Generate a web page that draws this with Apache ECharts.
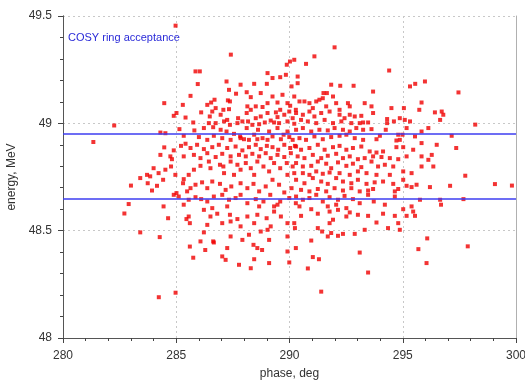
<!DOCTYPE html>
<html><head><meta charset="utf-8">
<script src="https://cdn.jsdelivr.net/npm/echarts@6/dist/echarts.min.js"></script>
<style>html,body{margin:0;padding:0;background:#fff}#c{width:525px;height:380px}</style>
</head><body><div id="c"></div>
<script>
// axis ticks
var xTicks = [280, 285, 290, 295, 300];
var yTicks = [48, 48.5, 49, 49.5];
// acceptance band limits (MeV)
var acceptance = [48.95, 48.65];
var legendText = 'COSY ring acceptance';

// [phase deg, energy MeV]
var outliers = [
[282.26,48.99],[281.34,48.913],[283.0,48.71],[282.9,48.624],[282.71,48.58],
[284.97,49.455],[287.41,49.32],[291.99,49.354],[291.10,49.312],
[298.20,48.994],[299.07,48.717],[299.82,48.71],
[284.23,48.19],[284.97,48.211],[291.40,48.216]
];
var coreLeft = [
[289.88,49.273],[290.02,49.288],[290.21,49.296],[285.85,49.242],[286.04,49.242],
[285.95,49.183],[287.22,49.195],[287.84,49.180],[288.44,49.184],[289.00,49.184],[289.25,49.211],[289.59,49.215],[289.84,49.226],[289.03,49.234],[287.33,49.156],[288.11,49.145],[290.09,49.172],
[285.63,49.128],[284.47,49.094],[285.29,49.086],[286.69,49.110],[286.54,49.097],[287.28,49.107],[287.37,49.102],[287.64,49.138],[288.29,49.122],[288.73,49.141],[289.25,49.125],[289.47,49.097],[289.69,49.133],[290.21,49.125],[290.03,49.082],[290.28,49.063],
[286.37,49.086],[286.74,49.071],[287.08,49.063],[287.33,49.066],[288.14,49.079],[288.51,49.079],[288.81,49.076],[289.03,49.094],[289.59,49.063],[289.91,49.094],
[285.01,49.048],[284.89,49.035],[285.41,49.027],[285.75,49.004],[286.10,49.051],[286.59,49.055],[286.48,49.032],[286.96,49.040],[287.25,49.016],[287.73,49.024],[288.11,49.048],[288.29,49.063],[288.17,49.009],[288.51,49.024],[288.73,49.032],[289.03,49.048],[289.40,49.051],[289.47,49.029],[289.77,49.040],[289.99,49.055],[290.14,49.024],
[289.32,49.004],[289.54,49.001],[289.91,49.009],[290.21,48.998],
[286.44,49.001],[286.74,49.001],[287.11,49.009],[287.37,48.993],[287.70,49.001],[287.92,49.009],[288.36,48.993],[288.66,48.996],[288.91,49.004],[289.17,49.013],
[284.30,48.957],[284.52,48.954],[285.14,48.973],[285.33,48.942],[285.80,48.967],[286.22,48.978],[286.63,48.982],[286.96,48.970],[287.22,48.962],[287.55,48.951],[287.82,48.939],[287.99,48.926],[288.11,48.978],[288.44,48.947],[288.61,48.970],[288.81,48.931],[289.10,48.962],[289.25,48.939],[289.47,48.978],[289.74,48.947],[289.91,48.962],[290.14,48.923],
[286.66,48.942],[287.03,48.931],[287.40,48.923],[287.84,48.931],[288.21,48.923],[288.58,48.926],[289.03,48.923],[289.62,48.926],[289.99,48.936],[286.00,48.936],[286.37,48.923],[285.41,48.905],
[284.47,48.888],[284.89,48.874],[285.21,48.895],[285.63,48.885],[285.92,48.900],[286.22,48.880],[286.59,48.889],[286.88,48.900],[287.25,48.885],[287.62,48.892],[287.92,48.874],[288.21,48.889],[288.51,48.900],[288.73,48.880],[289.00,48.895],[289.25,48.889],[289.50,48.877],[289.77,48.900],[290.03,48.885],[290.24,48.895],
[284.81,48.833],[284.74,48.846],[284.30,48.853],[285.33,48.846],[285.78,48.853],[286.07,48.838],[286.37,48.861],[286.74,48.843],[287.03,48.858],[287.40,48.846],[287.77,48.853],[288.07,48.846],[288.36,48.858],[288.66,48.846],[288.95,48.861],[289.17,48.838],[289.47,48.853],[289.77,48.843],[290.06,48.861],
[284.00,48.791],[284.22,48.768],[284.52,48.784],[284.77,48.799],[284.96,48.760],[285.33,48.740],[285.55,48.760],[285.78,48.784],[286.07,48.802],[286.44,48.822],[286.51,48.791],[286.93,48.807],[287.11,48.768],[287.40,48.822],[287.70,48.807],[287.84,48.784],[288.07,48.815],[288.29,48.791],[288.58,48.822],[288.85,48.799],[289.10,48.776],[289.32,48.815],[289.59,48.791],[289.88,48.815],[290.14,48.799],
[287.08,48.799],[288.44,48.760],[287.55,48.760],[289.91,48.760],[290.21,48.768],[283.71,48.760],[283.85,48.753],[283.41,48.745],
[283.74,48.721],[283.93,48.687],[284.15,48.709],[284.42,48.737],[285.30,48.721],[285.63,48.698],[285.85,48.714],[286.14,48.725],[286.37,48.698],[286.59,48.729],[286.93,48.718],[287.18,48.690],[287.43,48.706],[287.84,48.721],[288.14,48.698],[288.41,48.718],[288.66,48.683],[288.95,48.706],[289.25,48.737],[289.54,48.714],[289.77,48.678],[290.09,48.698],
[284.89,48.667],[285.01,48.675],[285.48,48.683],
[285.11,48.659],[285.55,48.644],[285.85,48.656],[286.10,48.647],[286.37,48.636],[286.66,48.659],[287.03,48.667],[287.33,48.644],[287.62,48.652],[287.84,48.667],[288.14,48.628],[288.51,48.647],[288.85,48.636],[289.15,48.667],[289.32,48.613],[289.59,48.636],[289.99,48.652],[290.28,48.628],
[284.44,48.613],[285.33,48.621],[286.59,48.605],[287.25,48.613],[288.66,48.613],[289.47,48.621],
[284.64,48.558],[285.45,48.554],[285.55,48.566],[286.22,48.597],[286.51,48.566],[286.81,48.579],[287.37,48.574],[287.70,48.554],[288.14,48.566],[288.58,48.574],[288.99,48.558],[289.32,48.589],[289.62,48.566],[289.91,48.535],[289.17,48.520],
[285.60,48.535],[286.37,48.527],[287.03,48.535],[287.40,48.543],[288.44,48.535],[290.21,48.535],
[283.41,48.492],[284.27,48.470],[286.22,48.492],[286.63,48.450],[287.40,48.473],[287.92,48.457],[288.21,48.481],[288.73,48.496],[289.03,48.504],[289.91,48.473],[290.24,48.512],[287.84,48.520],
[285.60,48.426],[286.07,48.450],[285.75,48.374],[286.66,48.445],[287.25,48.419],[288.41,48.434],[288.58,48.419],[289.10,48.457],[289.91,48.403],[290.28,48.419],
[287.03,48.380],[287.18,48.364],[287.77,48.341],[288.29,48.325],[288.44,48.367],[289.10,48.349],[289.99,48.352],[286.28,48.41],[288.79,48.41]
];
var coreRight = [
[290.73,49.277],[294.40,49.246],
[290.36,49.218],[290.36,49.187],[291.84,49.180],[292.24,49.175],[292.83,49.175],[293.69,49.148],[291.50,49.141],[291.65,49.141],[295.32,49.172],[295.55,49.184],[295.98,49.195],[297.46,49.144],
[290.44,49.102],[290.66,49.102],[290.88,49.094],[291.18,49.102],[291.32,49.110],[291.47,49.117],[291.92,49.125],[292.06,49.094],[292.58,49.094],[292.66,49.079],[293.32,49.094],[293.62,49.079],[291.03,49.071],[291.62,49.079],[292.21,49.063],[294.50,49.071],[295.05,49.071],[295.73,49.063],[295.83,49.097],[296.42,49.051],[296.72,49.055],[296.79,49.040],
[290.29,49.048],[290.59,49.040],[290.88,49.055],[291.10,49.032],[291.40,49.048],[291.77,49.055],[292.21,49.040],[292.43,49.024],[292.66,49.040],[292.88,49.032],[293.17,49.035],[293.69,49.048],
[290.51,49.016],[290.81,49.009],[291.18,49.001],[291.55,49.016],[291.92,49.001],[292.29,49.009],[292.73,49.001],[293.10,49.001],[293.25,49.004],[293.47,49.004],[294.31,49.020],[294.31,49.001],[294.61,49.009],[294.87,49.024],[295.09,49.016],[295.32,49.009],[296.65,49.016],
[290.29,48.970],[290.59,48.978],[290.96,48.962],[291.32,48.970],[291.69,48.967],[291.99,48.978],[292.36,48.970],[292.66,48.962],[292.95,48.978],[293.25,48.970],[293.62,48.973],
[290.44,48.931],[290.73,48.923],[291.10,48.939],[291.47,48.926],[291.84,48.936],[292.21,48.942],[292.51,48.947],[292.88,48.931],[293.25,48.923],[293.84,48.926],[293.99,48.942],[294.25,48.970],[294.80,48.947],[294.99,48.947],[295.17,48.978],[295.54,48.939],[295.83,48.962],[296.13,48.978],[297.16,48.942],[294.72,48.920],[294.87,48.923],
[290.29,48.892],[290.51,48.877],[290.88,48.885],[291.25,48.900],[291.55,48.877],[291.92,48.889],[292.21,48.895],[292.51,48.877],[292.80,48.885],[293.17,48.892],[293.54,48.869],[293.84,48.864],[294.13,48.869],[294.72,48.889],[295.02,48.889],[295.46,48.877],[295.83,48.908],[296.50,48.900],[297.36,48.885],
[290.36,48.846],[290.66,48.838],[291.03,48.853],[291.40,48.838],[291.69,48.849],[292.06,48.858],[292.36,48.838],[292.66,48.846],[293.02,48.833],[293.32,48.838],[293.69,48.846],[294.06,48.843],[294.43,48.838],[294.80,48.833],[295.17,48.846],[295.83,48.846],[296.13,48.830],[296.28,48.853],
[290.29,48.815],[290.59,48.799],[290.96,48.802],[291.25,48.822],[291.62,48.812],[291.84,48.791],[292.14,48.818],[292.51,48.802],[292.80,48.812],[293.17,48.796],[293.62,48.822],[293.91,48.799],[294.21,48.807],[294.58,48.799],[295.02,48.776],[295.39,48.768],[295.83,48.799],[296.35,48.799],
[290.59,48.768],[290.88,48.760],[291.18,48.776],[291.47,48.765],[291.77,48.771],[292.21,48.768],[292.66,48.760],[293.02,48.776],[293.40,48.768],[293.84,48.760],[294.43,48.760],[297.76,48.756],
[290.29,48.737],[290.66,48.721],[291.03,48.745],[291.40,48.729],[291.69,48.718],[292.06,48.745],[292.36,48.729],[292.73,48.721],[293.02,48.737],[293.40,48.718],[293.76,48.725],[294.13,48.729],[294.58,48.718],[295.02,48.737],[295.17,48.709],[295.39,48.703],[295.61,48.714],[296.20,48.703],[297.09,48.709],
[290.51,48.690],[290.88,48.683],[291.25,48.694],[291.62,48.683],[291.99,48.698],[292.36,48.687],[292.73,48.698],[293.10,48.683],[293.47,48.687],[293.69,48.694],[294.65,48.683],[294.80,48.694],
[290.29,48.659],[290.59,48.644],[290.88,48.652],[291.18,48.667],[291.47,48.636],[291.77,48.656],[292.14,48.644],[292.43,48.662],[292.80,48.647],[293.10,48.628],[293.47,48.667],[293.72,48.636],[294.21,48.621],[294.65,48.659],[295.02,48.600],[295.39,48.613],[295.76,48.644],[296.65,48.644],[296.69,48.621],[297.68,48.647],
[290.44,48.613],[290.96,48.600],[291.69,48.613],[292.06,48.621],[292.51,48.605],
[290.51,48.569],[291.25,48.579],[291.77,48.589],[291.92,48.551],[292.51,48.566],[292.66,48.585],[293.02,48.574],[293.47,48.569],[294.13,48.579],[294.65,48.569],[294.80,48.535],[295.17,48.569],[295.46,48.589],[295.54,48.569],[293.84,48.538],[291.77,48.535],[292.14,48.597],
[290.96,48.454],[291.44,48.496],[291.69,48.473],[291.84,48.489],[292.14,48.476],[292.36,48.485],[292.88,48.485],[293.32,48.504],[294.35,48.512],[294.87,48.504],[296.08,48.464],[291.25,48.512],
[291.03,48.377],[291.30,48.367],[293.10,48.398],[295.69,48.414],[297.87,48.427],
[290.81,48.324],[293.47,48.305],[296.05,48.349]
];

var points = outliers.concat(coreLeft, coreRight);
var FONT = 'Liberation Sans, Arial, sans-serif';
var xMin = xTicks[0], xMax = xTicks[xTicks.length - 1];
var yMin = yTicks[0], yMax = yTicks[yTicks.length - 1];

var chart = echarts.init(document.getElementById('c'), null, {renderer: 'canvas'});
chart.setOption({
  animation: false,
  backgroundColor: '#fff',
  grid: {left: 63, right: 9, top: 16, bottom: 42, outerBoundsMode: 'none', containLabel: false},
  xAxis: [{
    type: 'value', min: xMin, max: xMax, interval: 5,
    name: 'phase, deg', nameLocation: 'middle', nameGap: 30,
    nameTextStyle: {fontFamily: FONT, fontSize: 12, color: '#333'},
    axisLine: {show: true, onZero: false, lineStyle: {color: '#555', width: 1}},
    axisTick: {show: true, length: 5, lineStyle: {color: '#444', width: 1}},
    axisLabel: {fontFamily: FONT, fontSize: 12, color: '#333', margin: 12},
    splitLine: {show: true, lineStyle: {color: '#c8c8c8', type: [2, 3], width: 1}}
  }, {
    type: 'value', min: xMin, max: xMax, interval: 1, position: 'bottom',
    axisLine: {show: true, onZero: false, lineStyle: {color: '#555', width: 1}},
    axisTick: {show: true, length: 3, lineStyle: {color: '#444', width: 1}},
    axisLabel: {show: false}, splitLine: {show: false}
  }],
  yAxis: [{
    type: 'value', min: yMin, max: yMax, interval: 0.5,
    name: 'energy, MeV', nameLocation: 'middle', nameGap: 44,
    nameTextStyle: {fontFamily: FONT, fontSize: 12, color: '#333'},
    axisLine: {show: true, onZero: false, lineStyle: {color: '#555', width: 1}},
    axisTick: {show: true, length: 5, lineStyle: {color: '#444', width: 1}},
    axisLabel: {fontFamily: FONT, fontSize: 12, color: '#333', margin: 11},
    splitLine: {show: true, lineStyle: {color: '#c8c8c8', type: [2, 3], width: 1}}
  }, {
    type: 'value', min: yMin, max: yMax, position: 'right',
    axisLine: {show: true, onZero: false, lineStyle: {color: '#b0b0b0', width: 1}},
    axisTick: {show: false}, axisLabel: {show: false}, splitLine: {show: false}
  }, {
    type: 'value', min: yMin, max: yMax, interval: 0.1, position: 'left',
    axisLine: {show: true, onZero: false, lineStyle: {color: '#555', width: 1}},
    axisTick: {show: true, length: 3, lineStyle: {color: '#444', width: 1}},
    axisLabel: {show: false}, splitLine: {show: false}
  }],
  graphic: [{
    type: 'text', left: 68, top: 32,
    style: {text: legendText, fill: '#2a2ad8', font: '11px ' + FONT}
  }],
  series: [{
    type: 'scatter', data: points, symbol: 'rect', symbolSize: 4,
    xAxisIndex: 0, yAxisIndex: 0,
    itemStyle: {color: '#f00000'}, z: 3,
    markLine: {
      silent: true, symbol: 'none', label: {show: false}, z: 4,
      lineStyle: {color: '#3c3cf0', width: 1.5, type: 'solid'},
      data: acceptance.map(function (v) { return {yAxis: v}; })
    }
  }]
});
</script></body></html>
